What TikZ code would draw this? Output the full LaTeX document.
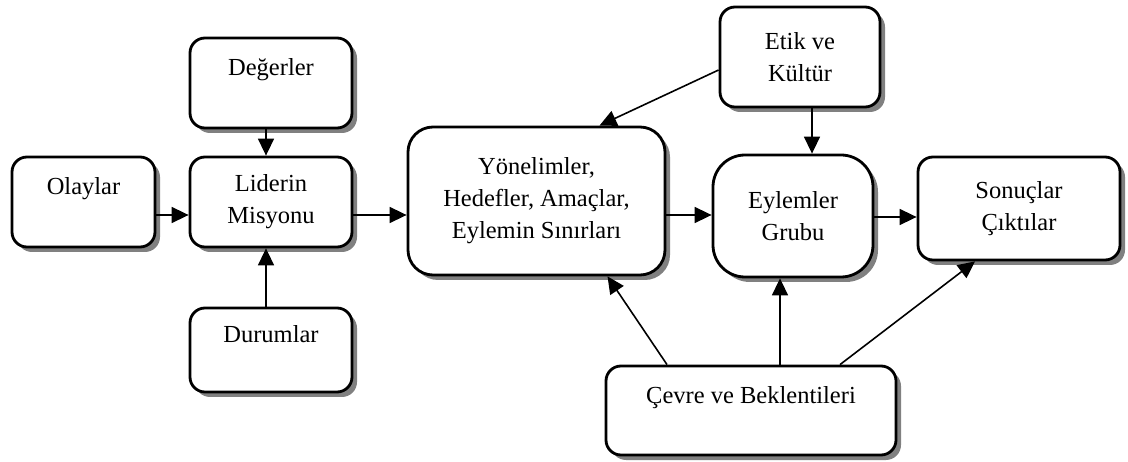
\documentclass[tikz,border=0pt]{standalone}
\usepackage{fontspec}
\setmainfont{Liberation Serif}
\usetikzlibrary{arrows.meta,shadows}
\begin{document}
\begin{tikzpicture}[
				x=1pt, y=-1pt,
				kutu/.style={draw, line width=2.8pt, rounded corners=15pt, fill=white,
					align=center, inner sep=0pt, font=\fontsize{24.5}{32}\selectfont,
					drop shadow={shadow xshift=5pt, shadow yshift=-5pt, fill=black!50, opacity=1}},
				ok/.style={draw, line width=1.6pt, -{Triangle[length=17pt,width=16pt]}}
			]
			\useasboundingbox (0,0) rectangle (1128,462);
			% kutular
			\node[kutu, minimum width=143pt, minimum height=90pt] (olay) at (83.5,202) {Olaylar\\\mbox{}};
			\node[kutu, minimum width=162pt, minimum height=90pt] (deger) at (271,83) {Değerler\\\mbox{}};
			\node[kutu, minimum width=162pt, minimum height=90pt] (lider) at (271,202) {Liderin\\Misyonu};
			\node[kutu, minimum width=162pt, minimum height=84pt] (durum) at (271,350) {Durumlar\\\mbox{}};
			\node[kutu, rounded corners=25pt, minimum width=257pt, minimum height=148pt] (yon) at (536.5,201)
				{Yönelimler,\\Hedefler, Amaçlar,\\Eylemin Sınırları};
			\node[kutu, minimum width=160pt, minimum height=100pt] (etik) at (800,57) {Etik ve\\Kültür};
			\node[kutu, rounded corners=32pt, minimum width=160pt, minimum height=122pt] (eylem) at (793,216) {Eylemler\\Grubu};
			\node[kutu, minimum width=202pt, minimum height=103pt] (sonuc) at (1019,208.5) {Sonuçlar\\Çıktılar};
			\node[kutu, minimum width=290pt, minimum height=89pt] (cevre) at (751,410.5) {Çevre ve Beklentileri\\\mbox{}};
			% oklar
			\draw[ok] ([yshift=-13pt]olay.east) -- ([yshift=-13pt]olay.east -| lider.west);
			\draw[ok] ([xshift=-5pt]deger.south) -- ([xshift=-5pt]lider.north);
			\draw[ok] ([xshift=-5pt]durum.north) -- ([xshift=-5pt]lider.south);
			\draw[ok] ([yshift=-13pt]lider.east) -- ([yshift=-13pt]lider.east -| yon.west);
			\draw[ok] ([yshift=-13pt]etik.west) -- ([xshift=63pt]yon.north);
			\draw[ok] ([xshift=12pt]etik.south) -- ([xshift=12pt]etik.south |- eylem.north);
			\draw[ok] ([yshift=-14pt]yon.east) -- ([yshift=-14pt]yon.east -| eylem.west);
			\draw[ok] ([yshift=-1pt]eylem.east) -- ([yshift=-1pt]eylem.east -| sonuc.west);
			\draw[ok] ([xshift=-84pt]cevre.north) -- ([xshift=71pt]yon.south);
			\draw[ok] ([xshift=29pt]cevre.north) -- ([xshift=29pt]cevre.north |- eylem.south);
			\draw[ok] ([xshift=89pt]cevre.north) -- ([xshift=-44pt]sonuc.south);
		\end{tikzpicture}
\end{document}
